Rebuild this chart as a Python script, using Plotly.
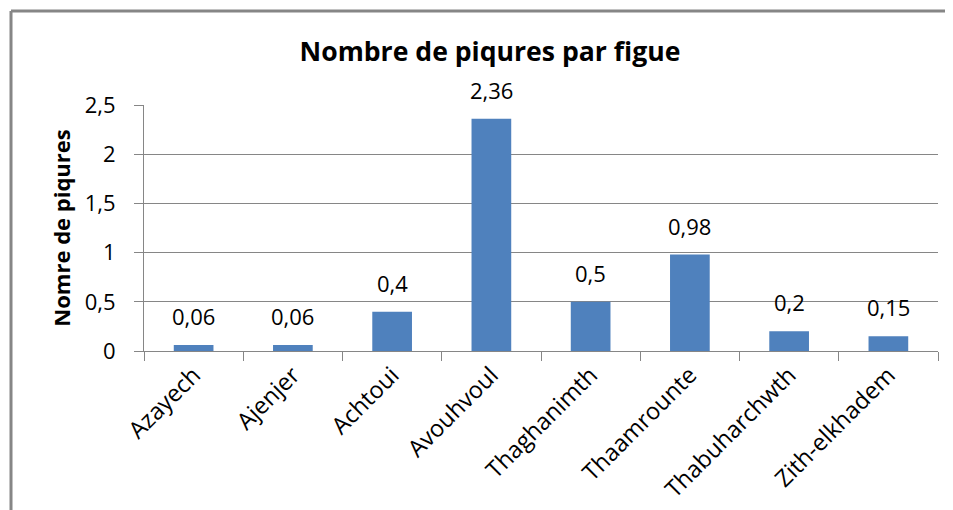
import plotly.graph_objects as go

sites = ['Azayech', 'Ajenjer', 'Achtoui', 'Avouhvoul', 'Thaghanimth',
         'Thaamrounte', 'Thabuharchwth', 'Zith-elkhadem']
piqures = [0.06, 0.06, 0.4, 2.36, 0.5, 0.98, 0.2, 0.15]
y_ticks = [0, 0.5, 1, 1.5, 2, 2.5]

# page body has an 8px margin, so the figure is 8px smaller and offset
OFF = 8
W, H = 953 - OFF, 510 - OFF
L, R, T, B = 144 - OFF, 15, 105 - OFF, 159
FONT = 'Open Sans, Calibri, sans-serif'
GREY = '#868686'


def px_x(p):
    return (p - OFF - L) / (W - L - R)


def px_y(p):
    return 1 - (p - OFF - T) / (H - T - B)


fig = go.Figure()
fig.add_trace(go.Bar(x=sites, y=piqures, marker_color='#4F81BD',
                     marker_line_width=0, showlegend=False))

for s, v in zip(sites, piqures):
    fig.add_annotation(x=s, y=v, text=str(v).replace('.', ','), showarrow=False,
                       yanchor='bottom', yshift=12, font=dict(size=22, color='#000'))

# chart frame (left and top edge only visible)
fig.add_shape(type='line', xref='paper', yref='paper', x0=px_x(11), x1=px_x(960),
              y0=px_y(11), y1=px_y(11), line=dict(color=GREY, width=3))
fig.add_shape(type='line', xref='paper', yref='paper', x0=px_x(11), x1=px_x(11),
              y0=px_y(11), y1=px_y(520), line=dict(color=GREY, width=3))

fig.update_xaxes(showline=True, linecolor=GREY, linewidth=1, ticks='outside',
                 tickcolor=GREY, ticklen=9, tickson='boundaries', tickangle=-45,
                 tickfont=dict(size=23.5, color='#000'), showgrid=False,
                 automargin=False)
fig.update_yaxes(range=[0, 2.5], tickvals=y_ticks, showline=True, linecolor=GREY,
                 linewidth=1, ticks='outside', tickcolor=GREY, ticklen=9,
                 ticklabelstandoff=14, automargin=False,
                 showgrid=True, gridcolor=GREY, gridwidth=1, zeroline=False,
                 tickfont=dict(size=22, color='#000'),
                 title=dict(text='<b>Nomre de piqures</b>', font=dict(size=22, color='#000'),
                            standoff=8))
fig.update_layout(width=W, height=H, margin=dict(l=L, r=R, t=T, b=B),
                  paper_bgcolor='white', plot_bgcolor='white', bargap=0.6,
                  separators=', ', font=dict(family=FONT),
                  title=dict(text='<b>Nombre de piqures par figue</b>', xref='container',
                             yref='container', x=(490 - OFF) / W, xanchor='center',
                             y=1 - (52 - OFF) / H, yanchor='middle',
                             font=dict(size=26.6, color='#000')))

fig.write_html('out.html')
